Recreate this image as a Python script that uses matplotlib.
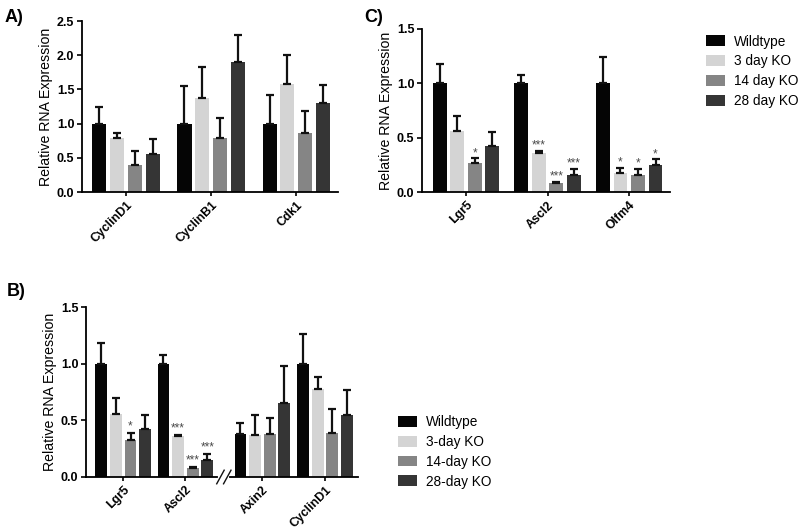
import matplotlib
matplotlib.use("Agg")
import matplotlib.pyplot as plt
from matplotlib.patches import Patch
import numpy as np

plt.rcParams['font.family'] = ['Liberation Sans', 'DejaVu Sans']

colors = ['#050505', '#d4d4d4', '#858585', '#353535']

# Panel A
genes_a = ['CyclinD1', 'CyclinB1', 'Cdk1']
a_wt = [1.00, 1.00, 1.00]
a_3d = [0.79, 1.37, 1.58]
a_14d = [0.39, 0.79, 0.87]
a_28d = [0.56, 1.90, 1.30]
a_wt_err = [0.25, 0.55, 0.42]
a_3d_err = [0.08, 0.46, 0.43]
a_14d_err = [0.21, 0.29, 0.31]
a_28d_err = [0.21, 0.40, 0.27]

# Panel C
genes_c = ['Lgr5', 'Ascl2', 'Olfm4']
c_wt = [1.00, 1.00, 1.00]
c_3d = [0.56, 0.36, 0.175]
c_14d = [0.27, 0.083, 0.16]
c_28d = [0.42, 0.16, 0.25]
c_wt_err = [0.18, 0.08, 0.24]
c_3d_err = [0.14, 0.02, 0.045]
c_14d_err = [0.04, 0.008, 0.05]
c_28d_err = [0.13, 0.05, 0.05]
c_sig_3d = ['', '***', '*']
c_sig_14d = ['*', '***', '*']
c_sig_28d = ['', '***', '*']

# Panel B
genes_b = ['Lgr5', 'Ascl2', 'Axin2', 'CyclinD1']
b_wt = [1.00, 1.00, 0.376, 1.00]
b_3d = [0.56, 0.36, 0.37, 0.78]
b_14d = [0.33, 0.083, 0.38, 0.39]
b_28d = [0.42, 0.15, 0.65, 0.55]
b_wt_err = [0.18, 0.08, 0.10, 0.26]
b_3d_err = [0.14, 0.01, 0.18, 0.10]
b_14d_err = [0.06, 0.007, 0.14, 0.21]
b_28d_err = [0.13, 0.055, 0.33, 0.22]
b_sig_3d = ['', '***', '', '']
b_sig_14d = ['*', '***', '', '']
b_sig_28d = ['', '***', '', '']

labels_c = ['Wildtype', '3 day KO', '14 day KO', '28 day KO']
labels_b = ['Wildtype', '3-day KO', '14-day KO', '28-day KO']

fig = plt.figure(figsize=(8, 5.32), dpi=100)


def style_axes(ax, ylim, yticks):
    for s in ['top', 'right']:
        ax.spines[s].set_visible(False)
    for s in ['left', 'bottom']:
        ax.spines[s].set_linewidth(1.3)
    ax.set_ylim(*ylim)
    ax.set_yticks(yticks)
    ax.set_yticklabels(['%.1f' % t for t in yticks], fontweight='bold', fontsize=9)
    ax.tick_params(axis='y', direction='out', length=3.5, width=1.2, pad=2)
    ax.tick_params(axis='x', direction='out', length=3, width=1.2, pad=2)
    ax.set_ylabel('Relative RNA Expression', fontsize=10.2, labelpad=3)


def draw_group(ax, pos, series, errs, sigs, width, offset, star_off):
    pos = np.asarray(pos, dtype=float)
    for i, (vals, er) in enumerate(zip(series, errs)):
        x = pos + (i - 1.5) * offset
        ax.bar(x, vals, width=width, color=colors[i], edgecolor='none', zorder=2)
        ax.errorbar(x, vals, yerr=[np.zeros(len(vals)), er], fmt='none',
                    ecolor='#111111', elinewidth=1.6, capsize=2.6, capthick=1.6, zorder=3)
        if sigs[i] is not None:
            for xi, v, e, s in zip(x, vals, er, sigs[i]):
                if s:
                    ax.annotate(s, (xi, v + e), xytext=(0, star_off), textcoords='offset points',
                                ha='center', va='bottom', fontsize=8.5, color='#4a4a4a')


# ---- Panel A
axA = fig.add_axes([0.1025, 0.639, 0.32, 0.3214])
posA = np.arange(len(genes_a))
draw_group(axA, posA, [a_wt, a_3d, a_14d, a_28d],
           [a_wt_err, a_3d_err, a_14d_err, a_28d_err],
           [None, None, None, None], 0.165, 0.21, 0)
axA.set_xlim(-0.52, 2.49)
style_axes(axA, (0, 2.5), [0.0, 0.5, 1.0, 1.5, 2.0, 2.5])
axA.set_xticks(posA)
axA.set_xticklabels(genes_a, rotation=45, ha='right', rotation_mode='anchor',
                    fontweight='bold', fontsize=8.8)

# ---- Panel C
axC = fig.add_axes([0.5275, 0.639, 0.31, 0.3065])
posC = np.arange(len(genes_c))
draw_group(axC, posC, [c_wt, c_3d, c_14d, c_28d],
           [c_wt_err, c_3d_err, c_14d_err, c_28d_err],
           [None, c_sig_3d, c_sig_14d, c_sig_28d], 0.17, 0.215, -0.5)
axC.set_xlim(-0.54, 2.5)
style_axes(axC, (0, 1.5), [0.0, 0.5, 1.0, 1.5])
axC.set_xticks(posC)
axC.set_xticklabels(genes_c, rotation=45, ha='right', rotation_mode='anchor',
                    fontweight='bold', fontsize=8.8)

# ---- Panel B
axB = fig.add_axes([0.1075, 0.1034, 0.34, 0.3195])
posB = np.array([0.0, 1.0, 2.24, 3.25])
draw_group(axB, posB, [b_wt, b_3d, b_14d, b_28d],
           [b_wt_err, b_3d_err, b_14d_err, b_28d_err],
           [None, b_sig_3d, b_sig_14d, b_sig_28d], 0.19, 0.235, 0.5)
axB.set_xlim(-0.6, 3.78)
style_axes(axB, (0, 1.5), [0.0, 0.5, 1.0, 1.5])
axB.set_xticks(posB)
axB.set_xticklabels(genes_b, rotation=45, ha='right', rotation_mode='anchor',
                    fontweight='bold', fontsize=8.8)
# axis break marks
brk = (posB[1] + posB[2]) / 2
trB = axB.get_xaxis_transform()
axB.plot([brk - 0.055, brk + 0.055], [0, 0], color='white', lw=3, transform=trB,
         clip_on=False, zorder=5)
for dx in (-0.055, 0.055):
    axB.plot([brk + dx - 0.06, brk + dx + 0.06], [-0.04, 0.04], color='#111111', lw=1.0,
             transform=trB, clip_on=False, zorder=6)

# Legends
handles_c = [Patch(facecolor=c, edgecolor='none') for c in colors]
fig.legend(handles_c, labels_c, loc='upper left', bbox_to_anchor=(0.882, 0.935),
           frameon=False, fontsize=9.8, handlelength=1.45, handleheight=0.85,
           labelspacing=0.43, handletextpad=0.6, borderpad=0, borderaxespad=0)
fig.legend(handles_c, labels_b, loc='upper left', bbox_to_anchor=(0.497, 0.22),
           frameon=False, fontsize=9.8, handlelength=1.45, handleheight=0.85,
           labelspacing=0.43, handletextpad=0.6, borderpad=0, borderaxespad=0)

# Panel letters
fig.text(0.006, 0.983, 'A)', fontsize=13, fontweight='bold', va='top')
fig.text(0.455, 0.983, 'C)', fontsize=13, fontweight='bold', va='top')
fig.text(0.008, 0.468, 'B)', fontsize=13, fontweight='bold', va='top')

fig.savefig('out.png', dpi=100)
